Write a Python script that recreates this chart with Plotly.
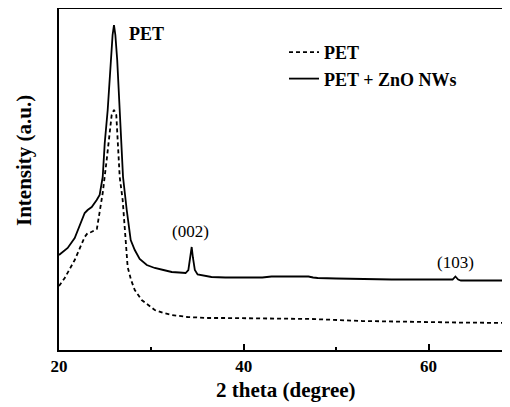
import plotly.graph_objects as go

# ---- data (intensity in arbitrary units) ----
two_theta_pet = [20.0, 20.62, 21.7, 22.78, 23.1, 23.5, 24.1, 24.4, 24.73, 25.16, 25.49, 25.7,
                 25.95, 26.2, 26.35, 26.57, 26.89, 27.2, 27.43, 27.8, 28.2, 28.95, 29.6, 30.36,
                 31.3, 32.2, 33.9, 36.1, 38.0, 42.0, 47.4, 52.8, 58.2, 63.0, 68.8, 70.0]
intensity_pet = [64, 72, 90, 113, 117, 118, 121, 138, 157, 190, 220, 235,
                 240, 235, 210, 173, 150, 110, 83, 70, 60, 50, 45, 40,
                 37, 35, 33, 32, 32, 31.5, 31, 29, 28, 27.5, 27, 27]

two_theta_zno = [20.0, 20.94, 21.7, 22.24, 22.78, 23.1, 23.54, 24.08, 24.4, 24.73, 24.95, 25.27,
                 25.6, 25.8, 25.95, 26.1, 26.3, 26.57, 26.93, 27.33, 27.76, 28.2, 28.73, 29.5,
                 30.36, 31.3, 32.2, 33.0, 33.7, 34.0, 34.2, 34.36, 34.5, 34.7, 35.0, 35.8,
                 36.5, 38.0, 40.0, 42.0, 43.0, 45.0, 47.0, 47.5, 48.0, 50.0, 52.0, 54.0,
                 56.0, 58.0, 60.0, 62.0, 62.6, 62.9, 63.2, 63.5, 65.0, 67.0, 70.0]
intensity_zno = [95, 102, 112, 125, 137, 140, 143, 150, 155, 173, 207, 240,
                 290, 315, 325, 315, 290, 240, 173, 140, 110, 100, 91, 85,
                 82, 80, 78, 77.5, 77, 80, 92, 103, 92, 80, 75.5, 74,
                 73, 72.5, 72.5, 72.5, 73.5, 73.5, 73.5, 72.5, 72, 71.5, 71, 71,
                 70.5, 70.5, 70.5, 70, 70.5, 73.5, 70.5, 69.5, 69.5, 69.5, 69.5]

series_names = ["PET", "PET + ZnO NWs"]
x_tick_values = [20, 40, 60]
x_tick_labels = ["20", "40", "60"]
peak_labels = ["PET", "(002)", "(103)"]
peak_label_x = [27.35, 34.27, 62.93]
peak_label_y = [316, 119, 88]

FONT = "Liberation Serif"

# page has an 8px body margin: figure placed at (8, 8)
OFF = 8
PL, PW, PB, PH = 59, 451, 350, 341  # plot area in page pixels


def px_x(px):
    return (px - PL) / PW


def px_y(py):
    return (PB - py) / PH


fig = go.Figure()
fig.add_trace(go.Scatter(x=two_theta_pet, y=intensity_pet, mode="lines", name=series_names[0],
                         line=dict(color="black", width=1.8, dash="4px,3px")))
fig.add_trace(go.Scatter(x=two_theta_zno, y=intensity_zno, mode="lines", name=series_names[1],
                         line=dict(color="black", width=1.8)))

# peak labels
fig.add_annotation(x=peak_label_x[0], y=peak_label_y[0], text=peak_labels[0], showarrow=False,
                   xanchor="left", yanchor="middle",
                   font=dict(family=FONT, size=18, color="black", weight="bold"))
for i in (1, 2):
    fig.add_annotation(x=peak_label_x[i], y=peak_label_y[i], text=peak_labels[i], showarrow=False,
                       xanchor="center", yanchor="middle",
                       font=dict(family=FONT, size=17, color="black"))

# axis titles
fig.add_annotation(x=px_x(24), y=px_y(161), xref="paper", yref="paper",
                   text="Intensity (a.u.)", textangle=-90, showarrow=False,
                   xanchor="center", yanchor="middle",
                   font=dict(family=FONT, size=21, color="black", weight="bold"))
fig.add_annotation(x=px_x(286), y=px_y(390), xref="paper", yref="paper",
                   text="2 theta (degree)", showarrow=False,
                   xanchor="center", yanchor="middle",
                   font=dict(family=FONT, size=21, color="black", weight="bold"))

fig.update_layout(
    width=510 - OFF, height=407 - OFF,
    margin=dict(l=PL - OFF, r=0, t=1, b=407 - PB),
    paper_bgcolor="white", plot_bgcolor="white",
    showlegend=True,
    legend=dict(x=px_x(284), y=px_y(34), xanchor="left", yanchor="top",
                bgcolor="rgba(0,0,0,0)", borderwidth=0,
                font=dict(family=FONT, size=18, color="black", weight="bold"),
                tracegroupgap=0, itemwidth=30),
    xaxis=dict(range=[20, 20 + PW / 9.24], showgrid=False, zeroline=False,
               showline=True, linecolor="black", linewidth=1.6, mirror=True,
               ticks="inside", ticklen=6, tickwidth=1.5, tickcolor="black",
               tickvals=x_tick_values, ticktext=x_tick_labels,
               tickfont=dict(family=FONT, size=17, color="black", weight="bold"),
               minor=dict(tickvals=[30, 50], ticks="inside", ticklen=3, tickwidth=1.5,
                          tickcolor="black", showgrid=False)),
    yaxis=dict(range=[0, PH], showgrid=False, zeroline=False,
               showline=True, linecolor="black", linewidth=1.6, mirror=False,
               ticks="", showticklabels=False),
)

fig.write_html("out.html")
